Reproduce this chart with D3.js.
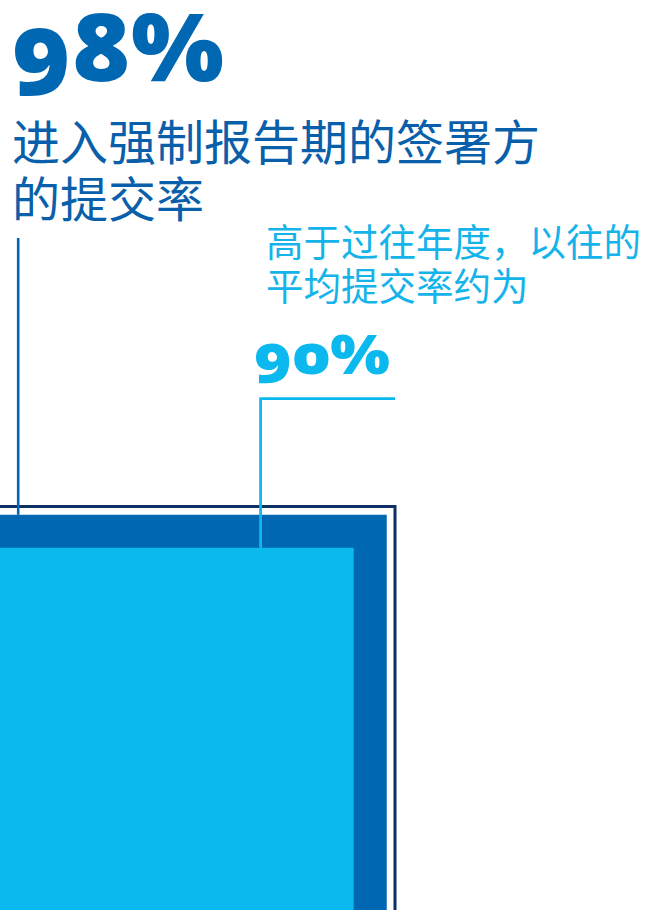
<!DOCTYPE html>
<html>
<head>
  <meta charset="utf-8" />
  <title>提交率</title>
  <script src="https://cdn.jsdelivr.net/npm/d3@7/dist/d3.min.js"></script>
  <style>
    html, body { margin: 0; padding: 0; background: #fff; }
    svg { display: block; }
    .big { font-family: "Noto Sans", Lato, sans-serif; font-weight: 900; font-variant-numeric: oldstyle-nums; }
    .cjk { font-family: "Noto Sans CJK SC", sans-serif; }
  </style>
</head>
<body>
<div id="vis"></div>
<script>
  var w = 646;
  var h = 910;

  // data
  var series = ["签署方", "以往平均"];
  var values = [98, 90];
  var maxValue = 100;
  var valueLabels = ["98%", "90%"];
  var captionLines = [
    ["进入强制报告期的签署方", "的提交率"],
    ["高于过往年度，以往的", "平均提交率约为"]
  ];

  var darkBlue = "#0068b3";
  var lightBlue = "#0cb9ee";
  var navy = "#0c2f66";

  // squares grow up and right from a corner just off the bottom-left
  var x0 = -18, y0 = 919.5;
  var size = d3.scaleLinear().domain([0, maxValue]).range([0, 413]);

  var svg = d3.select("#vis").append("svg")
    .attr("width", w)
    .attr("height", h);

  // 100% frame
  svg.append("rect")
    .attr("x", x0)
    .attr("y", y0 - size(maxValue))
    .attr("width", size(maxValue))
    .attr("height", size(maxValue))
    .attr("fill", "none")
    .attr("stroke", navy)
    .attr("stroke-width", 3);

  svg.selectAll("rect.sq")
    .data(values)
    .enter()
    .append("rect")
    .attr("class", "sq")
    .attr("x", x0)
    .attr("y", function(d) { return y0 - size(d); })
    .attr("width", function(d) { return size(d); })
    .attr("height", function(d) { return size(d); })
    .attr("fill", function(d, i) { return i == 0 ? darkBlue : lightBlue; });

  // leader lines
  svg.append("line")
    .attr("x1", 18.2).attr("x2", 18.2)
    .attr("y1", 238).attr("y2", y0 - size(values[0]))
    .attr("stroke", darkBlue)
    .attr("stroke-width", 2.6);

  svg.append("polyline")
    .attr("points", [
      [x0 + size(maxValue), 398.6],
      [260.6, 398.6],
      [260.6, y0 - size(values[1])]
    ].join(" "))
    .attr("fill", "none")
    .attr("stroke", lightBlue)
    .attr("stroke-width", 2.8);

  // big numbers, stretched to the width of the original wide face
  svg.append("text")
    .attr("class", "big")
    .attr("x", 12)
    .attr("y", 81)
    .attr("font-size", 94)
    .attr("textLength", 212)
    .attr("lengthAdjust", "spacingAndGlyphs")
    .attr("fill", darkBlue)
    .text(valueLabels[0]);

  svg.append("text")
    .attr("class", "big")
    .attr("x", 254)
    .attr("y", 374)
    .attr("font-size", 54)
    .attr("textLength", 136)
    .attr("lengthAdjust", "spacingAndGlyphs")
    .attr("fill", lightBlue)
    .text(valueLabels[1]);

  // captions
  svg.append("text")
    .attr("class", "cjk")
    .attr("font-size", 48)
    .attr("fill", "#0a5fab")
    .selectAll("tspan")
    .data(captionLines[0])
    .enter()
    .append("tspan")
    .attr("x", 12)
    .attr("y", function(d, i) { return 160 + i * 57; })
    .text(function(d) { return d; });

  svg.append("text")
    .attr("class", "cjk")
    .attr("font-size", 37.5)
    .attr("fill", "#14b4ea")
    .selectAll("tspan")
    .data(captionLines[1])
    .enter()
    .append("tspan")
    .attr("x", 266)
    .attr("y", function(d, i) { return 256 + i * 43.5; })
    .text(function(d) { return d; });
</script>
</body>
</html>
